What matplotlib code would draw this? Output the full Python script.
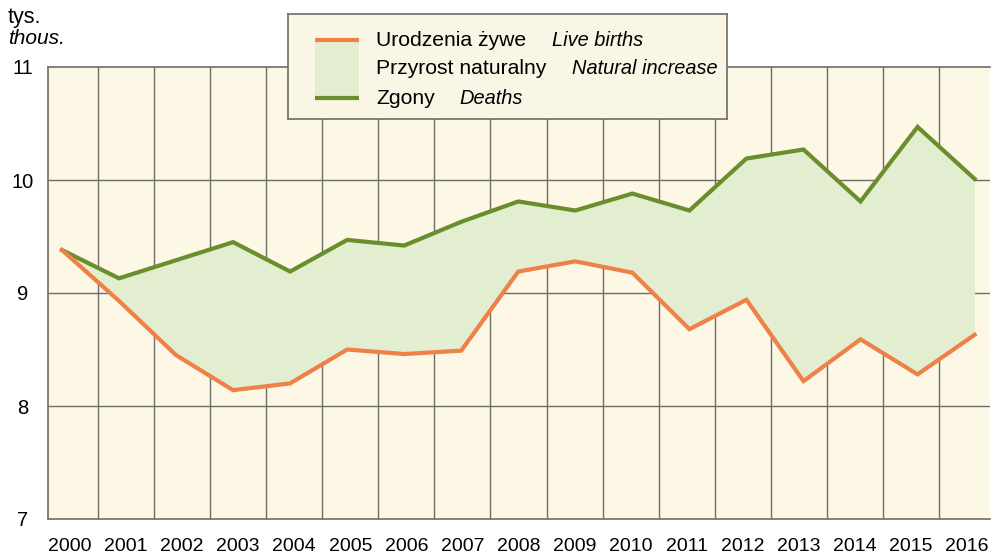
import matplotlib.pyplot as plt
from matplotlib.patches import Rectangle

plt.rcParams['font.family'] = ['Liberation Sans', 'DejaVu Sans']

# data: thousands of people
years = ['2000', '2001', '2002', '2003', '2004', '2005', '2006', '2007', '2008',
         '2009', '2010', '2011', '2012', '2013', '2014', '2015', '2016']
births = [9.38, 8.93, 8.45, 8.14, 8.20, 8.50, 8.46, 8.49, 9.19,
          9.28, 9.18, 8.68, 8.94, 8.22, 8.59, 8.28, 8.63]
deaths = [9.38, 9.13, 9.29, 9.45, 9.19, 9.47, 9.42, 9.63, 9.81,
          9.73, 9.88, 9.73, 10.19, 10.27, 9.81, 10.47, 10.01]
yticks = [7, 8, 9, 10, 11]

c_birth = '#ee8048'
c_death = '#6a8e2b'
c_fill = '#e2eecf'
c_bg = '#fdf7e5'
c_grid = '#6f6b66'

W, H = 991, 553
fig = plt.figure(figsize=(W / 100, H / 100), dpi=100)
ax = fig.add_axes([48 / W, 1 - 519 / H, 942 / W, 452 / H])
ax.set_facecolor(c_bg)

# label axis: year labels and cell borders
n = len(years)
ax.set_xlim(-0.392, 16.41)
ax.set_ylim(7, 11)
ax.set_xticks(range(n))
ax.set_xticklabels(years, fontsize=14)
ax.set_yticks(yticks)
ax.set_yticklabels([str(v) for v in yticks], fontsize=14.5)
ax.tick_params(axis='x', length=0, pad=13.5)
ax.tick_params(axis='y', length=0, pad=18)
for t in ax.get_yticklabels():
    t.set_horizontalalignment('center')
for i in range(n - 1):
    ax.axvline(i + 0.5, color=c_grid, lw=1, zorder=1)
for v in yticks[1:-1]:
    ax.axhline(v, color=c_grid, lw=1, zorder=1)
for s in ['left', 'bottom', 'top']:
    ax.spines[s].set_color(c_grid)
    ax.spines[s].set_linewidth(1.2)
ax.spines['right'].set_visible(False)

# data axis, points spaced slightly differently from the labels
ax2 = ax.twiny()
ax2.set_xlim(-0.245, 16.27)
ax2.set_ylim(7, 11)
ax2.set_xticks([])
for s in ax2.spines.values():
    s.set_visible(False)
xs = list(range(n))
ax2.fill_between(xs, births, deaths, color=c_fill, lw=0, zorder=2)
ax2.plot(xs, deaths, color=c_death, lw=3, solid_joinstyle='miter', zorder=3)
ax2.plot(xs, births, color=c_birth, lw=3, solid_joinstyle='miter', zorder=3)

fig.text(8 / W, 1 - 17 / H, 'tys.', fontsize=15.5, va='center', ha='left')
fig.text(8 / W, 1 - 38 / H, 'thous.', fontsize=15, style='italic', va='center', ha='left')

# legend box
lg = fig.add_axes([288 / W, 1 - 119 / H, 439 / W, 105 / H])
lg.set_xlim(0, 439)
lg.set_ylim(105, 0)
lg.set_xticks([])
lg.set_yticks([])
lg.set_facecolor('#f9f6e5')
for s in lg.spines.values():
    s.set_color(c_grid)
    s.set_linewidth(1.2)
lg.add_patch(Rectangle((27, 26), 44, 58, color=c_fill, lw=0))
lg.plot([27, 71], [26, 26], color=c_birth, lw=3, solid_capstyle='butt')
lg.plot([27, 71], [84, 84], color=c_death, lw=3, solid_capstyle='butt')
rows = [('Urodzenia żywe', 'Live births', 26, 264),
        ('Przyrost naturalny', 'Natural increase', 55, 284),
        ('Zgony', 'Deaths', 84, 171)]
for pl, en, y, xe in rows:
    lg.text(88, y, pl, fontsize=15.2, va='center', ha='left')
    lg.text(xe, y, en, fontsize=14.4, style='italic', va='center', ha='left')

fig.savefig('out.png', dpi=100)
